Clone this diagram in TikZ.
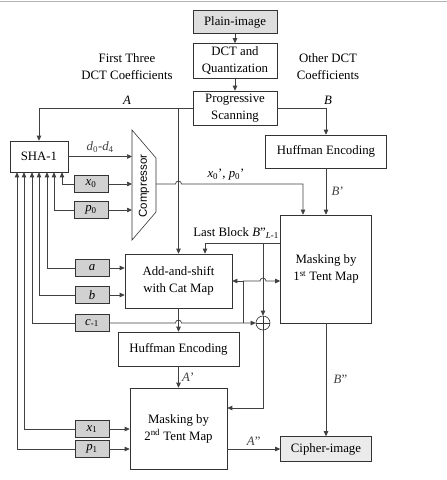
\documentclass[tikz,border=0pt]{standalone}
\usepackage{fontspec}
\setmainfont{Liberation Serif}
\setsansfont{Liberation Sans}
\usetikzlibrary{arrows.meta,calc}
\newcommand{\sv}[2]{\textit{#1}\textsubscript{#2}}

\begin{document}
\begin{tikzpicture}[x=1pt, y=-1pt, font=\fontsize{12.8}{17}\selectfont,
  box/.style={draw=black!80, semithick, inner sep=0pt, align=center},
  key/.style={box, fill=black!18, minimum width=34pt, minimum height=17pt},
  arr/.style={-{Triangle[length=5pt, width=4.5pt]}, line width=0.7pt, black!75},
  ln/.style={line width=0.7pt, black!75}]
\useasboundingbox (0,0) rectangle (447,480);
\draw[black!30, line width=1.5pt] (0,1.5) -- (447,1.5);
% ---- top column: image, DCT, scanning ----
\node[box, fill=black!13, minimum width=84pt, minimum height=23pt] (plain) at (235,22) {Plain-image};
\node[box, minimum width=84pt, minimum height=35pt] (dct) at (235,61) {DCT and\\Quantization};
\node[box, minimum width=84pt, minimum height=34pt] (prog) at (235,108) {Progressive\\Scanning};
\node[align=center] (ftlab) at (127,67) {First Three\\DCT Coefficients};
\node (alab) at (127,100) {\textit{A}};
\node[align=center] (odlab) at (328,67) {Other DCT\\Coefficients};
\node (blab) at (328,100) {\textit{B}};
\node[box, minimum width=121pt, minimum height=33pt] (huffb) at (326,151.5) {Huffman Encoding};
% ---- left column: hash and keys ----
\node[box, minimum width=58pt, minimum height=31pt] (sha) at (39,156.5) {SHA-1};
\node[key] (x0) at (91,184) {\sv{x}{0}};
\node[key] (p0) at (91,210) {\sv{p}{0}};
\node[key] (ka) at (92,268) {\textit{a}};
\node[key] (kb) at (92,295) {\textit{b}};
\node[key] (kc) at (92,323) {\sv{c}{-1}};
\node[key] (x1) at (92,429) {\sv{x}{1}};
\node[key] (p1) at (92,449) {\sv{p}{1}};
% compressor
\coordinate (ctl) at (132,130);
\coordinate (ctr) at (156,158);
\coordinate (cbr) at (156,212);
\coordinate (cbl) at (132,240);
\draw[draw=black!80, semithick] (ctl) -- (ctr) -- (cbr) -- (cbl) -- cycle;
\node[font=\sffamily\fontsize{11.5}{12}\selectfont, rotate=90] (comp) at (144,186) {Compressor};
% ---- middle: encryption blocks ----
\node[box, minimum width=107pt, minimum height=54pt] (add) at (178.5,281) {Add-and-shift\\with Cat Map};
\node[box, minimum width=91pt, minimum height=108pt] (maska) at (326,269) {Masking by\\1\textsuperscript{st} Tent Map};
\node[draw=black!80, semithick, circle, minimum size=14pt, inner sep=0pt] (xor) at (263,323) {};
\draw[black!80, semithick] (xor.north) -- (xor.south) (xor.west) -- (xor.east);
\node[box, minimum width=121pt, minimum height=34pt] (huffa) at (178.5,349) {Huffman Encoding};
\node[box, minimum width=97pt, minimum height=81pt] (maskb) at (178.5,428.5) {Masking by\\2\textsuperscript{nd} Tent Map};
\node[box, fill=black!8, minimum width=91pt, minimum height=25pt] (cipher) at (326,449) {Cipher-image};
% ---- connectors ----
\draw[arr] (plain) -- (dct);
\draw[arr] (dct) -- (prog);
\coordinate (ja) at (prog.west -| add.north);
\draw[arr] (prog.west) -| (sha.north);
\draw[arr] (ja) -- (add.north);
\draw[arr] (prog.east) -| (huffb.north);
\draw[arr] (huffb) -- node[right, xshift=2pt] {\textit{B}\symbol{39}} (maska);
\draw[arr] (sha.east) -- node[above] {\sv{d}{0}-\sv{d}{4}} (sha.east -| ctl);
\draw[arr] (x0.east) -- (x0.east -| ctl);
\draw[arr] (p0.east) -- (p0.east -| ctl);
\foreach \k/\dx in {x0/23, p0/15, ka/8, kb/0, kc/-7, x1/-15, p1/-22}
  \draw[arr] (\k.west) -| ([xshift=\dx pt]sha.south);
% compressor output, hops over the A line
\coordinate (cout) at (cbr |- x0.east);
\coordinate (xin) at ([xshift=-23pt]maska.north);
\draw[arr] (cout) -- ($(cout -| ja)+(-3,0)$) arc[start angle=180, end angle=360, radius=3] -| (xin);
\node (xplab) at (226,175) {\sv{x}{0}\symbol{39}, \sv{p}{0}\symbol{39}};
% last block feedback
\coordinate (lb) at ([yshift=26pt]maska.west);
\coordinate (lin) at ([xshift=26.5pt]add.north);
\draw[arr] (lb) -| (lin);
\draw[arr] (lb -| xor) -- (xor.north);
\node (lblab) at (236,233) {Last Block \textit{B}\symbol{34}\textsubscript{\textit{L}-1}};
% c_-1 branch
\coordinate (jb) at (243,281);
\draw[arr] (kc.east) -- ($(kc.east -| ja)+(-3,0)$) arc[start angle=180, end angle=360, radius=3] -- (xor.west);
\draw[ln] (jb) -- (jb |- xor);
\draw[arr] (jb) -- (add.east);
\draw[arr] (jb) -- ($(jb -| xor)+(-3,0)$) arc[start angle=180, end angle=360, radius=3] -- (jb -| maska.west);
\draw[arr] (ka.east) -- (ka.east -| add.west);
\draw[arr] (kb.east) -- (kb.east -| add.west);
\draw[arr] (add) -- (huffa);
\draw[arr] (huffa) -- node[right] {\textit{A}\symbol{39}} (maskb);
\draw[arr] (x1.east) -- (x1.east -| maskb.west);
\draw[arr] (p1.east) -- (p1.east -| maskb.west);
\draw[arr] (xor.south) |- ([yshift=20.5pt]maskb.east);
\draw[arr] (cipher.west -| maskb.east) -- node[above] {\textit{A}\symbol{34}} (cipher.west);
\draw[arr] (maska) -- node[right, xshift=4pt] {\textit{B}\symbol{34}} (cipher);
\end{tikzpicture}
\end{document}
